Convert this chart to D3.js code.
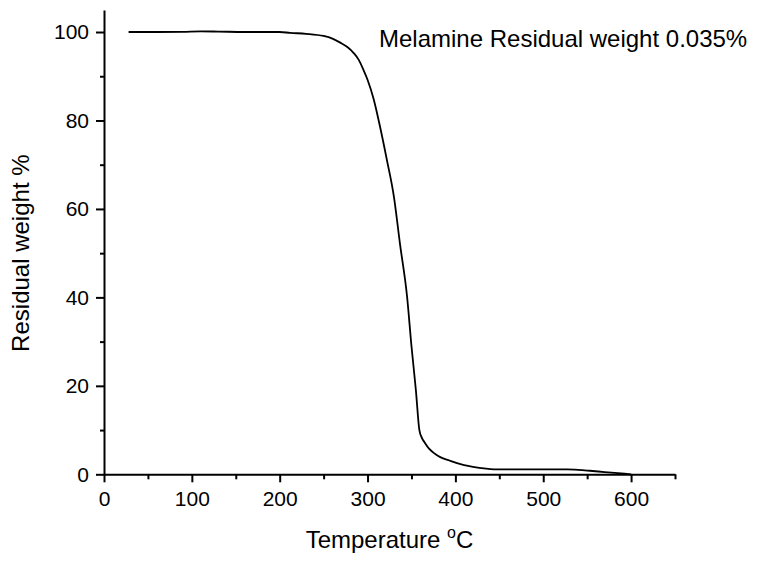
<!DOCTYPE html>
<html lang="en">
<head>
  <meta charset="UTF-8">
  <title>Melamine TGA</title>
  <script src="https://cdn.jsdelivr.net/npm/d3@7"></script>
  <style>
    body {
      margin: 0;
      background: white;
    }

    svg text {
      font-family: "Liberation Sans", Arial, sans-serif;
      fill: black;
    }

    .axis path,
    .axis line {
      stroke: black;
      stroke-width: 2;
    }

    .axis text {
      font-size: 21px;
    }
  </style>
</head>
<body>
  <div id="chart"></div>
  <script>
    // temperature (°C) and residual weight (%)
    const temperature = [28, 60, 90, 110, 130, 160, 200, 212, 230, 250, 260, 269, 277, 284, 290, 295, 300, 307,
      314, 322, 330, 337, 345, 350, 355, 359, 362, 365, 370, 375, 380, 386, 392, 401, 410, 420, 435, 451,
      480, 527, 540, 553, 570, 585, 600]
    const residual = [100, 100, 100.05, 100.15, 100.1, 100, 100, 99.8, 99.6, 99.1, 98.5, 97.6, 96.6, 95.3, 93.7, 91.6, 89.2, 84.8,
      78.8, 71.1, 62.8, 52, 40.2, 29, 19.1, 10, 8.2, 7.2, 5.8, 4.9, 4.2, 3.6, 3.2, 2.6, 2.1, 1.7, 1.3, 1.1,
      1.1, 1.1, 1.0, 0.8, 0.5, 0.25, 0]

    const xTicks = [0, 100, 200, 300, 400, 500, 600]
    const xMinor = [50, 150, 250, 350, 450, 550, 650]
    const yTicks = [0, 20, 40, 60, 80, 100]
    const yMinor = [10, 30, 50, 70, 90]

    const width = 767
    const height = 562

    const xScale = d3.scaleLinear()
      .domain([0, 650])
      .range([104, 675])

    const yScale = d3.scaleLinear()
      .domain([0, 105])
      .range([474.3, 9.9])

    const svg = d3.select("#chart")
      .append("svg")
      .attr("width", width)
      .attr("height", height)

    // minor ticks first, then main axes on top
    svg.append("g")
      .attr("class", "axis")
      .attr("transform", `translate(0, ${yScale(0)})`)
      .call(d3.axisBottom(xScale).tickValues(xMinor).tickSize(5).tickFormat(""))
      .select(".domain").remove()

    svg.append("g")
      .attr("class", "axis")
      .attr("transform", `translate(${xScale(0)}, 0)`)
      .call(d3.axisLeft(yScale).tickValues(yMinor).tickSize(4).tickFormat(""))
      .select(".domain").remove()

    svg.append("g")
      .attr("class", "axis")
      .attr("transform", `translate(0, ${yScale(0)})`)
      .call(d3.axisBottom(xScale).tickValues(xTicks).tickSize(8).tickSizeOuter(0).tickPadding(9))

    svg.append("g")
      .attr("class", "axis")
      .attr("transform", `translate(${xScale(0)}, 0)`)
      .call(d3.axisLeft(yScale).tickValues(yTicks).tickSize(8).tickSizeOuter(0).tickPadding(7))

    const points = temperature.map((t, i) => [t, residual[i]])

    const line = d3.line()
      .x(d => xScale(d[0]))
      .y(d => yScale(d[1]))
      .curve(d3.curveMonotoneX)

    svg.append("path")
      .datum(points)
      .attr("d", line)
      .attr("fill", "none")
      .attr("stroke", "black")
      .attr("stroke-width", 1.8)

    svg.append("text")
      .attr("x", 379)
      .attr("y", 47)
      .style("font-size", "24px")
      .text("Melamine Residual weight 0.035%")

    const xTitle = svg.append("text")
      .attr("x", (xScale(0) + xScale(650)) / 2)
      .attr("y", 548)
      .attr("text-anchor", "middle")
      .style("font-size", "24px")
    xTitle.append("tspan").text("Temperature ")
    xTitle.append("tspan").attr("dy", -10).style("font-size", "16px").text("o")
    xTitle.append("tspan").attr("dy", 10).text("C")

    svg.append("text")
      .attr("transform", `translate(29, ${(yScale(0) + yScale(100)) / 2}) rotate(-90)`)
      .attr("text-anchor", "middle")
      .style("font-size", "24px")
      .text("Residual weight %")
  </script>
</body>
</html>
